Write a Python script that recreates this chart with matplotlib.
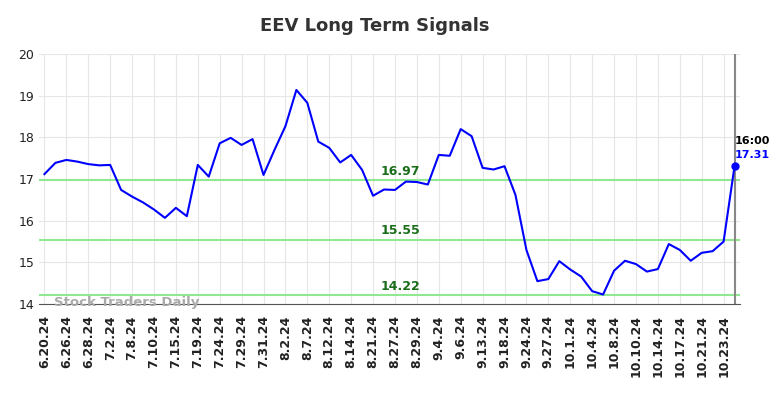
import matplotlib.pyplot as plt

# Datas (rótulo a cada 2 pontos)
dates = ['6.20.24', '6.24.24', '6.26.24', '6.27.24', '6.28.24', '7.1.24', '7.2.24', '7.5.24',
         '7.8.24', '7.9.24', '7.10.24', '7.12.24', '7.15.24', '7.17.24', '7.19.24', '7.22.24',
         '7.24.24', '7.26.24', '7.29.24', '7.30.24', '7.31.24', '8.1.24', '8.2.24', '8.5.24',
         '8.7.24', '8.9.24', '8.12.24', '8.13.24', '8.14.24', '8.16.24', '8.21.24', '8.23.24',
         '8.27.24', '8.28.24', '8.29.24', '8.30.24', '9.4.24', '9.5.24', '9.6.24', '9.11.24',
         '9.13.24', '9.16.24', '9.18.24', '9.20.24', '9.24.24', '9.25.24', '9.27.24', '9.30.24',
         '10.1.24', '10.2.24', '10.4.24', '10.7.24', '10.8.24', '10.9.24', '10.10.24', '10.11.24',
         '10.14.24', '10.15.24', '10.17.24', '10.18.24', '10.21.24', '10.22.24', '10.23.24', '10.24.24']

prices = [17.12, 17.39, 17.46, 17.42, 17.36, 17.33, 17.34, 16.74, 16.58, 16.44,
          16.27, 16.07, 16.31, 16.11, 17.34, 17.06, 17.86, 17.99, 17.82, 17.96,
          17.10, 17.70, 18.27, 19.14, 18.83, 17.90, 17.75, 17.40, 17.58, 17.22,
          16.60, 16.75, 16.74, 16.94, 16.93, 16.87, 17.58, 17.56, 18.20, 18.03,
          17.27, 17.23, 17.31, 16.62, 15.30, 14.55, 14.60, 15.03, 14.83, 14.66,
          14.31, 14.23, 14.80, 15.04, 14.96, 14.78, 14.84, 15.44, 15.30, 15.04,
          15.23, 15.27, 15.50, 17.31]

levels = [16.97, 15.55, 14.22]

x = list(range(len(prices)))

fig = plt.figure(figsize=(7.84, 3.98), dpi=100, facecolor='white')
ax = fig.add_axes([0.0497, 0.236, 0.8942, 0.628])

# Linhas de suporte/resistência
for lv in levels:
    ax.axhline(lv, color='#90e890', linewidth=1.5, zorder=1)
    ax.text(32.5, lv + 0.05, f'{lv:.2f}', color='#1a6e1a', fontsize=9, fontweight='bold',
            ha='center', va='bottom')

ax.plot(x, prices, color='#0000ff', linewidth=1.5, zorder=3)

# Último ponto
ax.axvline(x[-1], color='#888888', linewidth=1.5, zorder=2)
ax.plot(x[-1], prices[-1], 'o', color='#0000ff', markersize=5, zorder=4)
ax.text(x[-1], prices[-1] + 0.48, '16:00', color='black', fontsize=8, fontweight='bold',
        ha='left', va='bottom')
ax.text(x[-1], prices[-1] + 0.15, f'{prices[-1]:.2f}', color='#0000ff', fontsize=8,
        fontweight='bold', ha='left', va='bottom')

ax.text(0.9, 14.03, 'Stock Traders Daily', color='#aaaaaa', fontsize=9.5, fontweight='bold',
        ha='left', va='center', zorder=5)

fig.text(375 / 784, 1 - 26 / 398, 'EEV Long Term Signals', fontsize=13, fontweight='bold',
         color='#333333', ha='center', va='center')

ax.set_xlim(-0.5, len(prices) - 0.5)
ax.set_ylim(14, 20)
ax.set_yticks(range(14, 21))
ax.set_xticks(x[::2])
ax.set_xticklabels(dates[::2], rotation=90, fontsize=9, fontweight='bold', color='#222222')
ax.tick_params(axis='y', labelsize=9, length=0, colors='#222222')
ax.tick_params(axis='x', length=0, pad=8)

ax.grid(True, color='#e6e6e6', linewidth=0.8)
ax.set_axisbelow(True)
for s in ['left', 'top', 'right']:
    ax.spines[s].set_visible(False)
ax.spines['bottom'].set_color('#555555')

plt.savefig('out.png', dpi=100, facecolor='white')
plt.close()
